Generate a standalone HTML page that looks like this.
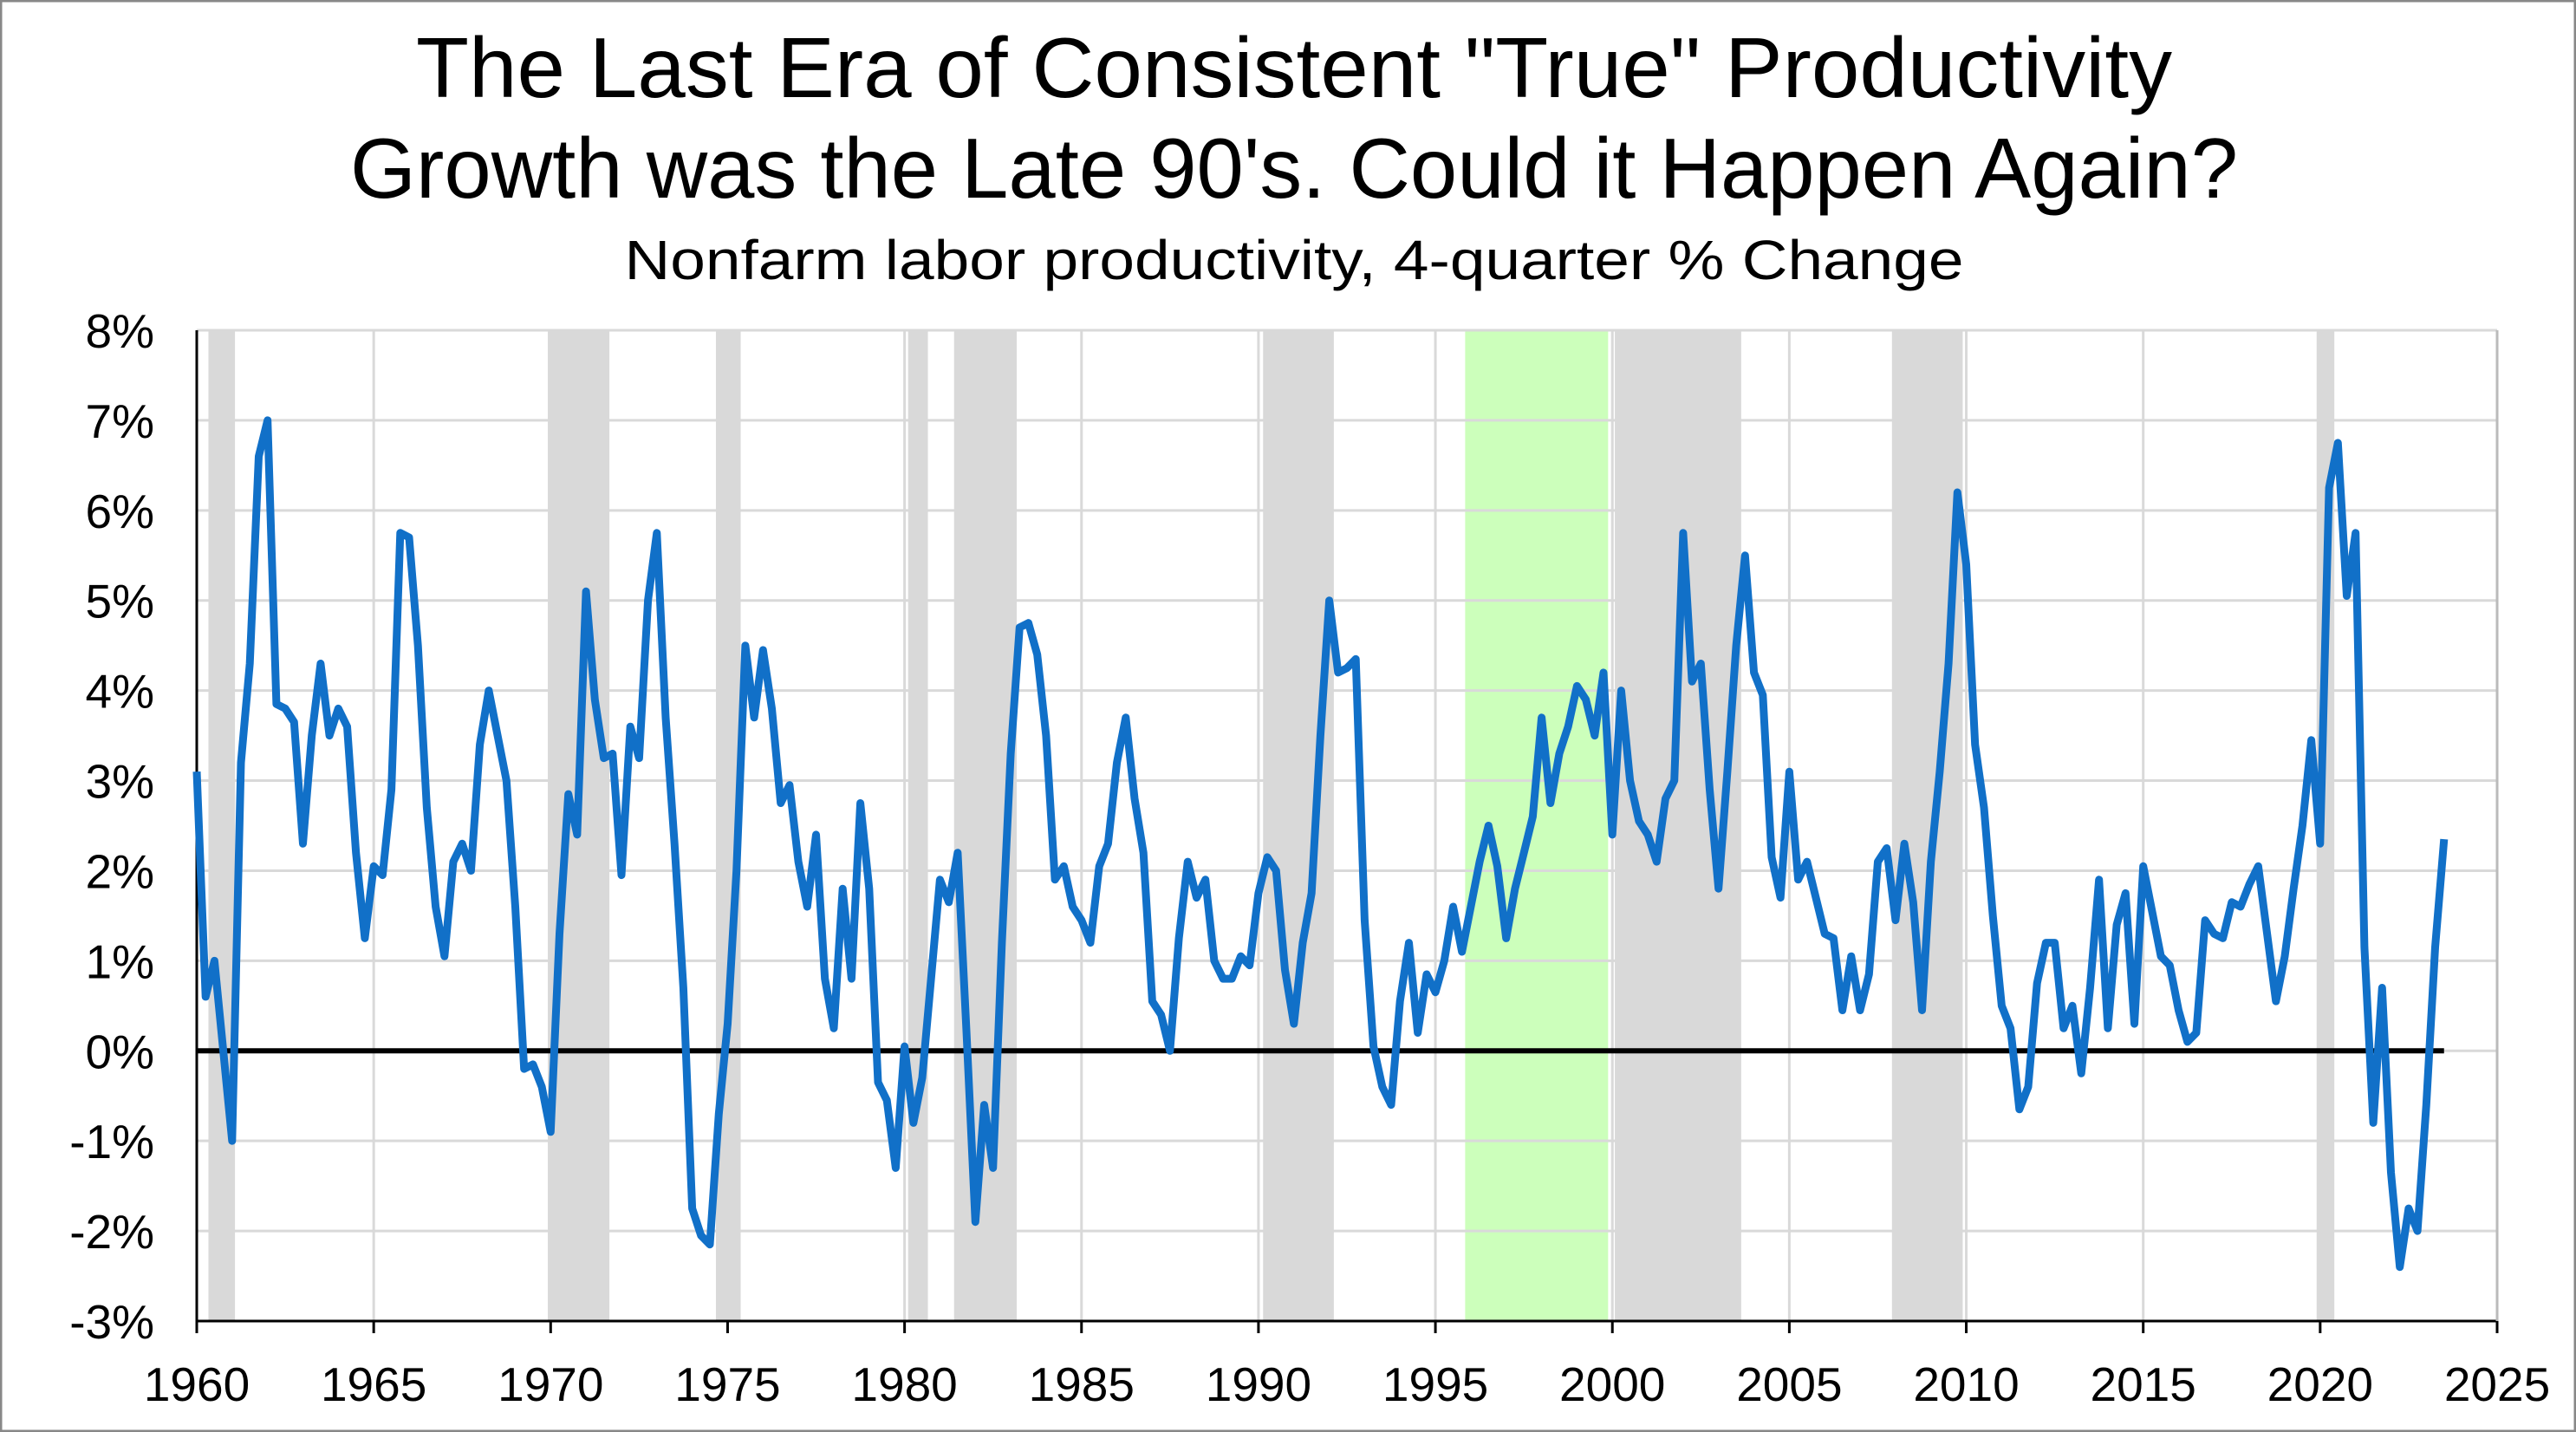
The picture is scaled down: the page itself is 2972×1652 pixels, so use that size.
<!DOCTYPE html>
<html><head><meta charset="utf-8"><style>
html,body{margin:0;padding:0;background:#fff}
svg{display:block}
text{font-family:"Liberation Sans",sans-serif;fill:#000}
</style></head><body>
<svg id="chart" width="2972" height="1652" viewBox="0 0 2972 1652" xmlns="http://www.w3.org/2000/svg">
<rect x="1" y="1" width="2970" height="1650" fill="#fff" stroke="#888" stroke-width="3"/>
<text x="1493" y="112" font-size="98" text-anchor="middle" textLength="2026" lengthAdjust="spacingAndGlyphs">The Last Era of Consistent "True" Productivity</text>
<text x="1493" y="228" font-size="98" text-anchor="middle" textLength="2178" lengthAdjust="spacingAndGlyphs">Growth was the Late 90's. Could it Happen Again?</text>
<text x="1493" y="322" font-size="64" text-anchor="middle" textLength="1545" lengthAdjust="spacingAndGlyphs">Nonfarm labor productivity, 4-quarter % Change</text>
<g id="bands"></g>
<g id="grid"></g>
<g id="axes"></g>
<g id="series"></g>
</svg>
<script>
const values = [
3.1,0.6,1.0,0.0,
-1.0,3.2,4.3,6.6,
7.0,3.85,3.8,3.65,
2.3,3.5,4.3,3.5,
3.8,3.6,2.2,1.25,
2.05,1.95,2.9,5.75,
5.7,4.5,2.7,1.6,
1.05,2.1,2.3,2.0,
3.4,4.0,3.5,3.0,
1.6,-0.2,-0.15,-0.4,
-0.9,1.3,2.85,2.4,
5.1,3.9,3.25,3.3,
1.95,3.6,3.25,5.0,
5.75,3.7,2.3,0.7,
-1.75,-2.05,-2.15,-0.7,
0.3,2.0,4.5,3.7,
4.45,3.8,2.75,2.95,
2.1,1.6,2.4,0.8,
0.25,1.8,0.8,2.75,
1.8,-0.35,-0.55,-1.3,
0.05,-0.8,-0.3,0.8,
1.9,1.65,2.2,0.2,
-1.9,-0.6,-1.3,1.2,
3.3,4.7,4.75,4.4,
3.5,1.9,2.05,1.6,
1.45,1.2,2.05,2.3,
3.2,3.7,2.8,2.2,
0.55,0.4,0.0,1.25,
2.1,1.7,1.9,1.0,
0.8,0.8,1.05,0.95,
1.75,2.15,2.0,0.9,
0.3,1.2,1.75,3.5,
5.0,4.2,4.25,4.35,
1.45,0.05,-0.4,-0.6,
0.55,1.2,0.2,0.85,
0.65,1.0,1.6,1.1,
1.6,2.1,2.5,2.05,
1.25,1.8,2.2,2.6,
3.7,2.75,3.3,3.6,
4.05,3.9,3.5,4.2,
2.4,4.0,3.0,2.55,
2.4,2.1,2.8,3.0,
5.75,4.1,4.3,2.9,
1.8,3.1,4.5,5.5,
4.2,3.95,2.15,1.7,
3.1,1.9,2.1,1.7,
1.3,1.25,0.45,1.05,
0.45,0.85,2.1,2.25,
1.45,2.3,1.65,0.45,
2.1,3.1,4.3,6.2,
5.4,3.4,2.7,1.5,
0.5,0.25,-0.65,-0.4,
0.75,1.2,1.2,0.25,
0.5,-0.25,0.7,1.9,
0.25,1.4,1.75,0.3,
2.05,1.55,1.05,0.95,
0.45,0.1,0.2,1.45,
1.3,1.25,1.65,1.6,
1.85,2.05,1.3,0.55,
1.05,1.8,2.5,3.45,
2.3,6.25,6.75,5.05,
5.75,1.15,-0.8,0.7,
-1.35,-2.4,-1.75,-2.0,
-0.6,1.15,2.35
];
const startYear = 1960;
const recessionStarts = [1960.33,1969.92,1974.67,1980.1,1981.4,1990.13,2000.07,2007.9,2019.9];
const recessionEnds   = [1961.08,1971.66,1975.37,1980.66,1983.17,1992.13,2003.64,2009.9,2020.4];
const highlightStart = 1995.84;
const highlightEnd = 1999.88;
const yTicks = [-3,-2,-1,0,1,2,3,4,5,6,7,8];
const xTicks = [1960,1965,1970,1975,1980,1985,1990,1995,2000,2005,2010,2015,2020,2025];

const L=227,R=2881,T=381,B=1524;
const xMin=1960,xMax=2025,yMin=-3,yMax=8;
const X=v=>L+(v-xMin)/(xMax-xMin)*(R-L);
const Y=v=>B-(v-yMin)/(yMax-yMin)*(B-T);
const NS='http://www.w3.org/2000/svg';
function mk(tag,parent,attrs){const e=document.createElementNS(NS,tag);for(const k in attrs)e.setAttribute(k,attrs[k]);parent.appendChild(e);return e;}

const bands=document.getElementById('bands');
for(let i=0;i<recessionStarts.length;i++){
  const r=mk('rect',bands,{x:X(recessionStarts[i]),y:T,width:X(recessionEnds[i])-X(recessionStarts[i]),height:B-T,fill:'#d9d9d9'});
  
  
}
const hl=mk('rect',bands,{x:X(highlightStart),y:T,width:X(highlightEnd)-X(highlightStart),height:B-T,fill:'#ccffbb'});



const grid=document.getElementById('grid');
const axes=document.getElementById('axes');
yTicks.forEach(t=>{
  if(t!==yMin){const g=mk('line',grid,{x1:L,x2:R,y1:Y(t),y2:Y(t),stroke:'#d9d9d9','stroke-width':3});
  
  }
  const lb=mk('text',axes,{x:178,y:Y(t)+20,'font-size':55,'text-anchor':'end'});
  lb.textContent=t+'%';
  
  
});
xTicks.forEach(t=>{
  if(t!==xMin){const g=mk('line',grid,{x1:X(t),x2:X(t),y1:T,y2:B,stroke:'#d9d9d9','stroke-width':3});
  
  }
  const tk=mk('line',axes,{x1:X(t),x2:X(t),y1:B,y2:B+14,stroke:'#000','stroke-width':3});
  
  
  const lb=mk('text',axes,{x:X(t),y:1616,'font-size':55,'text-anchor':'middle'});
  lb.textContent=t;
  
  
});
const ya=mk('line',axes,{x1:L,x2:L,y1:T,y2:B,stroke:'#000','stroke-width':3});


const xa=mk('line',axes,{x1:L,x2:R,y1:B,y2:B,stroke:'#000','stroke-width':3});


const rb=mk('line',axes,{x1:R,x2:R,y1:T,y2:B,stroke:'#bbb','stroke-width':3});



const series=document.getElementById('series');
const lastX=startYear+(values.length-1)/4;
const z=mk('line',series,{x1:L,x2:X(lastX),y1:Y(0),y2:Y(0),stroke:'#000','stroke-width':6});


const pts=values.map((v,i)=>X(startYear+i/4).toFixed(1)+','+Y(v).toFixed(1)).join(' ');
const pl=mk('polyline',series,{points:pts,fill:'none',stroke:'#1170c8','stroke-width':9,'stroke-linejoin':'round'});


</script>
</body></html>
